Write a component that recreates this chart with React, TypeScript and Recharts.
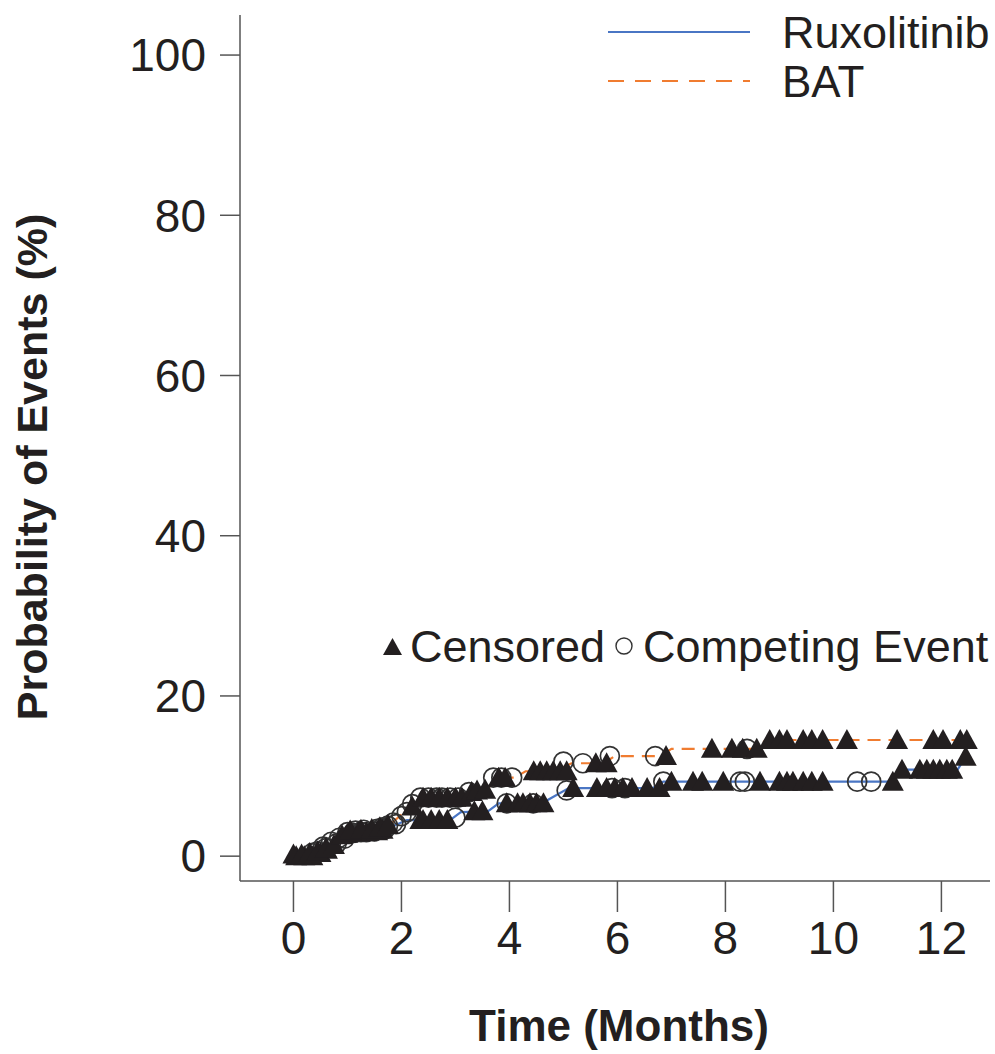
import React from 'react';
import { ComposedChart, Line, Scatter, XAxis, YAxis } from 'recharts';

// ---------------------------------------------------------------------------
// Data: cumulative incidence (%) by month
// ---------------------------------------------------------------------------

const ruxTimes = [0, 0.4, 0.8, 1.0, 1.5, 1.8, 2.1, 2.9, 3.1, 3.6, 3.8, 4.6, 5.1, 6.65, 6.85, 11.05, 11.25, 12.3, 12.45];
const ruxValues = [0, 0.6, 1.8, 2.8, 3.0, 3.6, 4.5, 4.5, 5.5, 5.6, 6.6, 6.6, 8.5, 8.5, 9.3, 9.3, 10.8, 10.8, 12.4];

const batTimes = [0, 0.4, 0.9, 1.1, 1.5, 1.8, 2.1, 2.4, 3.2, 3.4, 3.6, 3.75, 4.1, 4.3, 4.85, 5.15, 5.75, 5.95, 6.8, 7.0, 8.55, 8.75, 12.5];
const batValues = [0, 0.8, 2.5, 3.2, 3.4, 4.0, 5.8, 7.3, 7.3, 8.2, 8.4, 9.8, 9.8, 10.6, 10.6, 11.6, 11.6, 12.5, 12.5, 13.4, 13.4, 14.5, 14.5];

// censored observations (triangles)
const ruxCensTimes = [0.05, 0.2, 0.35, 0.5, 0.62, 1.0, 1.2, 1.35, 1.55, 1.65, 2.35, 2.4, 2.55, 2.7, 2.85, 3.35, 3.5, 3.95, 4.15, 4.25, 4.38, 4.5, 4.63, 5.18, 5.62, 5.8, 5.95, 6.1, 6.27, 6.55, 6.78, 7.0, 7.4, 7.57, 7.96, 8.64, 9.0, 9.14, 9.25, 9.44, 9.6, 9.8, 11.1, 11.27, 11.6, 11.73, 11.85, 11.97, 12.1, 12.2, 12.45];
const ruxCensValues = [0, 0, 0, 0.4, 0.8, 2.8, 3.0, 3.0, 3.1, 3.3, 4.5, 4.5, 4.5, 4.5, 4.5, 5.6, 5.6, 6.6, 6.6, 6.6, 6.6, 6.6, 6.6, 8.5, 8.5, 8.5, 8.5, 8.5, 8.5, 8.5, 8.5, 9.3, 9.3, 9.3, 9.3, 9.3, 9.3, 9.3, 9.3, 9.3, 9.3, 9.3, 9.3, 10.8, 10.8, 10.8, 10.8, 10.8, 10.8, 10.8, 12.4];

const batCensTimes = [0, 0.15, 0.3, 0.45, 0.6, 0.75, 0.9, 1.05, 1.25, 1.45, 1.6, 1.75, 2.2, 2.4, 2.55, 2.7, 2.85, 3.0, 3.12, 3.3, 3.4, 3.55, 3.8, 3.92, 4.45, 4.57, 4.69, 4.81, 4.94, 5.06, 5.6, 5.8, 6.9, 7.75, 8.12, 8.32, 8.58, 8.82, 9.0, 9.14, 9.44, 9.6, 9.8, 10.25, 11.18, 11.85, 12.03, 12.35, 12.47];
const batCensValues = [0.2, 0.2, 0.4, 0.6, 1.0, 1.4, 2.6, 3.2, 3.3, 3.4, 3.6, 3.9, 6.2, 7.3, 7.3, 7.3, 7.3, 7.3, 7.3, 8.0, 8.2, 8.3, 9.8, 9.8, 10.6, 10.6, 10.6, 10.6, 10.6, 10.6, 11.6, 11.6, 12.5, 13.4, 13.4, 13.4, 13.4, 14.5, 14.5, 14.5, 14.5, 14.5, 14.5, 14.5, 14.5, 14.5, 14.5, 14.5, 14.5];

// competing events (open circles)
const ruxCompTimes = [0.35, 0.45, 0.6, 0.8, 0.95, 1.1, 1.25, 1.35, 1.5, 1.7, 1.9, 3.0, 3.95, 4.44, 5.06, 5.9, 6.14, 6.85, 8.27, 8.36, 10.44, 10.7];
const ruxCompValues = [0.4, 0.6, 1.0, 1.6, 2.2, 2.9, 3.0, 3.0, 3.1, 3.4, 4.0, 4.8, 6.6, 6.6, 8.2, 8.5, 8.5, 9.3, 9.3, 9.3, 9.3, 9.3];

const batCompTimes = [0.55, 0.7, 0.85, 1.0, 1.15, 1.3, 1.55, 1.65, 1.75, 1.85, 2.0, 2.1, 2.2, 2.35, 2.5, 2.65, 2.75, 2.9, 3.05, 3.25, 3.7, 3.85, 4.05, 5.0, 5.36, 5.86, 6.7, 8.4];
const batCompValues = [1.2, 1.8, 2.3, 3.0, 3.2, 3.3, 3.4, 3.6, 3.8, 4.2, 5.0, 5.5, 6.5, 7.3, 7.3, 7.3, 7.3, 7.3, 7.3, 8.0, 9.8, 9.8, 9.8, 11.8, 11.6, 12.5, 12.5, 13.4];

const xTicks = [0, 2, 4, 6, 8, 10, 12];
const yTicks = [0, 20, 40, 60, 80, 100];

const zip = (ts: number[], vs: number[]) => ts.map((t, i) => ({ t, y: vs[i] }));

const ruxData = zip(ruxTimes, ruxValues);
const batData = zip(batTimes, batValues);
const censData = [...zip(ruxCensTimes, ruxCensValues), ...zip(batCensTimes, batCensValues)];
const compData = [...zip(ruxCompTimes, ruxCompValues), ...zip(batCompTimes, batCompValues)];

// ---------------------------------------------------------------------------
// Styles
// ---------------------------------------------------------------------------

const FONT = '"Liberation Sans", Arial, Helvetica, sans-serif';
const INK = '#231f20';
const AXIS = '#555555';
const BLUE = '#4a76c4';
const ORANGE = '#f07c30';

const tickStyle = { fontSize: 46, fill: INK, fontFamily: FONT };

function Triangle({ cx, cy }: { cx?: number; cy?: number }) {
  if (cx == null || cy == null) return null;
  return <path d={`M${cx - 11},${cy + 9} L${cx + 11},${cy + 9} L${cx},${cy - 11} Z`} fill={INK} />;
}

function Ring({ cx, cy }: { cx?: number; cy?: number }) {
  if (cx == null || cy == null) return null;
  return <circle cx={cx} cy={cy} r={9.5} fill="none" stroke="#333" strokeWidth={1.7} />;
}

export default function App() {
  return (
    <div style={{ position: 'absolute', left: 0, top: 0, width: 995, height: 1054, background: '#fff' }}>
      <ComposedChart
        width={995}
        height={1054}
        margin={{ top: 15, right: 5, bottom: 0, left: 0 }}
      >
        <XAxis
          type="number"
          dataKey="t"
          domain={[-0.99, 12.9]}
          ticks={xTicks}
          allowDataOverflow
          height={173}
          tickSize={31}
          tickMargin={9}
          tick={tickStyle}
          axisLine={{ stroke: AXIS, strokeWidth: 1.5 }}
          tickLine={{ stroke: AXIS, strokeWidth: 1.5 }}
        />
        <YAxis
          type="number"
          dataKey="y"
          domain={[-3.1, 105]}
          ticks={yTicks}
          allowDataOverflow
          width={240}
          tickSize={20}
          tickMargin={14}
          tick={tickStyle}
          axisLine={{ stroke: AXIS, strokeWidth: 1.5 }}
          tickLine={{ stroke: AXIS, strokeWidth: 1.5 }}
        />
        <Line data={ruxData} dataKey="y" type="linear" stroke={BLUE} strokeWidth={2.2} dot={false} isAnimationActive={false} />
        <Line data={batData} dataKey="y" type="linear" stroke={ORANGE} strokeWidth={2.2} strokeDasharray="13 8" dot={false} isAnimationActive={false} />
        <Scatter data={compData} dataKey="y" shape={<Ring />} isAnimationActive={false} />
        <Scatter data={censData} dataKey="y" shape={<Triangle />} isAnimationActive={false} />
      </ComposedChart>

      <svg width={995} height={1054} style={{ position: 'absolute', left: 0, top: 0, pointerEvents: 'none' }}>
        <g fontFamily={FONT} fill={INK}>
          {/* series legend */}
          <line x1={608} x2={750} y1={32} y2={32} stroke={BLUE} strokeWidth={2} />
          <line x1={608} x2={750} y1={81} y2={81} stroke={ORANGE} strokeWidth={2} strokeDasharray="16 11" />
          <text x={782} y={48} fontSize={45}>Ruxolitinib</text>
          <text x={782} y={97} fontSize={44}>BAT</text>

          {/* marker legend */}
          <path d="M383,655 L402,655 L392.5,638 Z" fill={INK} />
          <text x={410} y={662} fontSize={45}>Censored</text>
          <circle cx={624} cy={646} r={8} fill="none" stroke="#333" strokeWidth={1.4} />
          <text x={643} y={662} fontSize={45}>Competing Event</text>

          {/* axis titles */}
          <text x={619} y={1041} fontSize={44} fontWeight="bold" textAnchor="middle">Time (Months)</text>
          <text
            x={0}
            y={0}
            fontSize={43}
            fontWeight="bold"
            textAnchor="middle"
            transform="translate(47,467) rotate(-90)"
          >
            Probability of Events (%)
          </text>
        </g>
      </svg>
    </div>
  );
}
